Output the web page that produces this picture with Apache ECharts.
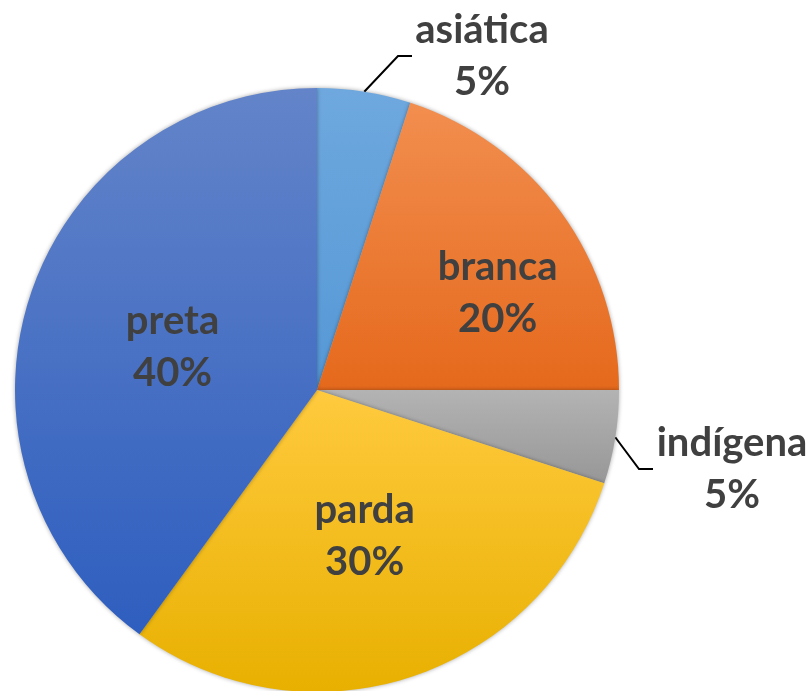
<!DOCTYPE html>
<html>
<head>
<meta charset="utf-8">
<script src="https://cdn.jsdelivr.net/npm/echarts@6/dist/echarts.min.js"></script>
<style>
  html, body { margin: 0; padding: 0; background: #fff; }
  #chart { width: 811px; height: 691px; }
</style>
</head>
<body>
<div id="chart"></div>
<script>
  // categorias e percentuais (sentido horario a partir do topo)
  var categories = ['asiática', 'branca', 'indígena', 'parda', 'preta'];
  var values = [5, 20, 5, 30, 40];
  var topColors = ['#6EA8DE', '#F28E4F', '#B3B3B3', '#FFCA3E', '#6384C9'];
  var bottomColors = ['#5598D6', '#E5691C', '#979797', '#E8B000', '#2E5EBF'];
  // rotulos externos: centro do bloco de texto e largura
  var outerLabels = {
    'asiática': { x: 482, y: 56, w: 140 },
    'indígena': { x: 732, y: 469, w: 158 }
  };

  var chart = echarts.init(document.getElementById('chart'));

  var data = categories.map(function (name, i) {
    var item = {
      name: name,
      value: values[i],
      itemStyle: {
        color: new echarts.graphic.LinearGradient(0, 0, 0, 1, [
          { offset: 0, color: topColors[i] },
          { offset: 1, color: bottomColors[i] }
        ])
      }
    };
    var o = outerLabels[name];
    if (o) {
      item.label = {
        position: 'outside',
        width: o.w,
        overflow: 'none',
        rich: { n: { width: o.w } }
      };
      item.labelLine = {
        show: true,
        length: 20,
        length2: 14,
        lineStyle: { color: '#000', width: 2 }
      };
    }
    return item;
  });

  chart.setOption({
    backgroundColor: '#fff',
    animation: false,
    series: [{
      type: 'pie',
      center: [317, 390],
      radius: 302,
      startAngle: 90,
      clockwise: true,
      avoidLabelOverlap: false,
      data: data,
      itemStyle: {
        shadowBlur: 4,
        shadowColor: 'rgba(0,0,0,0.35)'
      },
      label: {
        show: true,
        position: 'inside',
        formatter: function (p) { return '{n|' + p.name + '}\n{n|' + p.value + '%}'; },
        rich: {
          n: {
            fontFamily: 'Lato',
            fontWeight: 'bold',
            fontSize: 40,
            color: '#404040',
            lineHeight: 52,
            width: 160,
            align: 'center'
          }
        }
      },
      labelLine: { show: false },
      labelLayout: function (params) {
        var o = outerLabels[categories[params.dataIndex]];
        if (o) return { x: o.x, y: o.y, align: 'center', verticalAlign: 'middle' };
        if (params.dataIndex === 1) return { dx: 56, dy: -6 };
        if (params.dataIndex === 4) return { dx: 2, dy: 5 };
        return {};
      }
    }]
  });
</script>
</body>
</html>
